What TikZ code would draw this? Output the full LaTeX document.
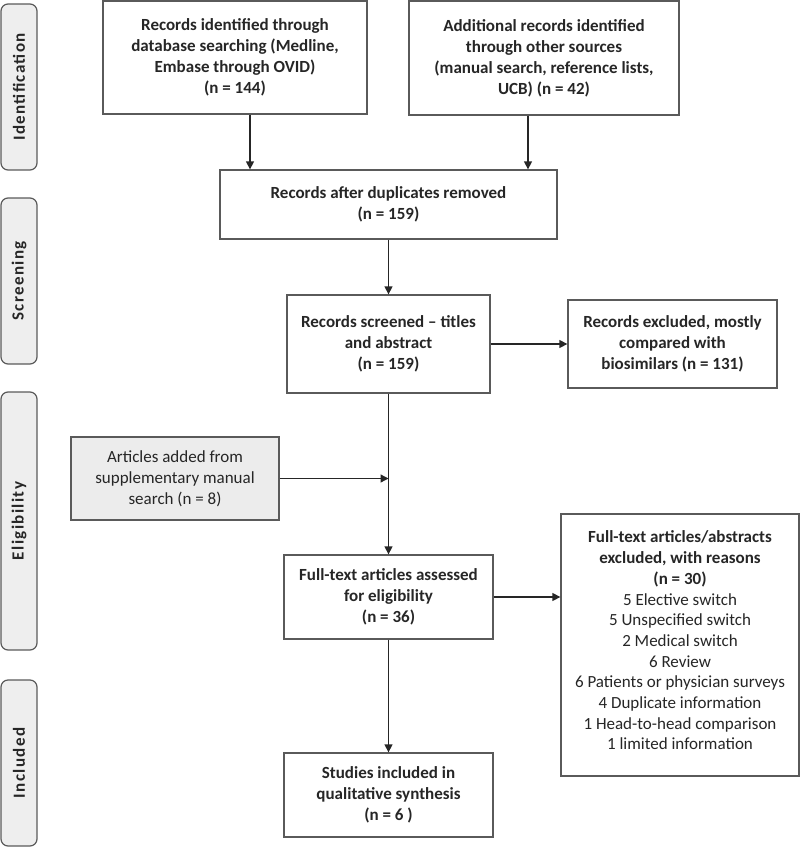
\documentclass[tikz,border=0pt]{standalone}
\usepackage{fontspec}
\setmainfont{Carlito}
\usetikzlibrary{arrows.meta,calc}
\definecolor{txt}{HTML}{262626}
\definecolor{edge}{HTML}{5A5A5A}
\definecolor{lab}{HTML}{EEEEEE}
\definecolor{addfill}{HTML}{ECECEC}
\begin{document}
\begin{tikzpicture}[x=1pt,y=-1pt,
  every node/.style={font=\fontsize{17}{21}\selectfont, text=txt},
  box/.style={draw=edge, line width=1.3pt, fill=white, rectangle, align=center, inner sep=0pt},
  bbox/.style={box, font=\fontsize{17}{21}\selectfont\bfseries},
  stage/.style={draw=edge, line width=1.2pt, fill=lab, rounded corners=7pt, inner sep=0pt,
     minimum width=36pt},
  stagetext/.style={rotate=90, font=\fontsize{17}{20}\selectfont\bfseries\addfontfeature{LetterSpace=8}},
  arr/.style={draw=txt, line width=1.3pt, -{Triangle[length=8pt,width=8pt]}}
]
\useasboundingbox (0,0) rectangle (800,847);

% stage labels
\node[stage, minimum height=166pt] (s1) at (19,87) {};
\node[stagetext] (t1) at (s1.center) {Identification};
\node[stage, minimum height=166pt] (s2) at (19,281) {};
\node[stagetext] (t2) at (s2.center) {Screening};
\node[stage, minimum height=258pt] (s3) at (19,521) {};
\node[stagetext] (t3) at (s3.center) {Eligibility};
\node[stage, minimum height=166pt] (s4) at (19,763) {};
\node[stagetext] (t4) at (s4.center) {Included};

% boxes
\node[bbox, minimum width=264pt, minimum height=113pt] (A) at (235,57.5)
  {Records identified through\\database searching (Medline,\\Embase through OVID)\\(n = 144)};
\node[bbox, minimum width=270pt, minimum height=114pt] (B) at (544,58)
  {Additional records identified\\through other sources\\(manual search, reference lists,\\UCB) (n = 42)};
\node[bbox, minimum width=337pt, minimum height=69pt] (C) at (388.5,204.5)
  {Records after duplicates removed\\(n = 159)};
\node[bbox, minimum width=203pt, minimum height=98pt] (D) at (388.5,344)
  {Records screened -- titles\\and abstract\\(n = 159)};
\node[bbox, minimum width=209pt, minimum height=88pt] (E) at (672.5,344)
  {Records excluded, mostly\\compared with\\biosimilars (n = 131)};
\node[box, fill=addfill, minimum width=208pt, minimum height=83pt] (F) at (175,478.5)
  {Articles added from\\supplementary manual\\search (n = 8)};
\node[bbox, minimum width=209pt, minimum height=84pt] (G) at (388.5,597)
  {Full-text articles assessed\\for eligibility\\(n = 36)};
\node[box, minimum width=238pt, minimum height=262pt] (H) at (680,645) {};
\node[align=center, font=\fontsize{17}{20.7}\selectfont] (Ht) at (680,640.5)
  {\textbf{Full-text articles/abstracts}\\\textbf{excluded, with reasons}\\\textbf{(n = 30)}\\
   5 Elective switch\\5 Unspecified switch\\2 Medical switch\\6 Review\\6 Patients or physician surveys\\
   4 Duplicate information\\1 Head-to-head comparison\\1 limited information};
\node[bbox, minimum width=209pt, minimum height=84pt] (I) at (388.5,795)
  {Studies included in\\qualitative synthesis\\(n = 6 )};

% connectors
\draw[arr] ([xshift=15pt]A.south) -- ([xshift=15pt]A.south |- C.north);
\draw[arr] ([xshift=-16pt]B.south) -- ([xshift=-16pt]B.south |- C.north);
\draw[arr] (C.south) -- (D.north);
\draw[arr] (D.east) -- (E.west |- D.east);
\coordinate (J) at (D.south |- F.east);
\draw[arr] (F.east) -- (J);
\draw[arr] (D.south) -- (G.north);
\draw[arr] (G.east) -- (H.west |- G.east);
\draw[arr] (G.south) -- (I.north);
\end{tikzpicture}
\end{document}
